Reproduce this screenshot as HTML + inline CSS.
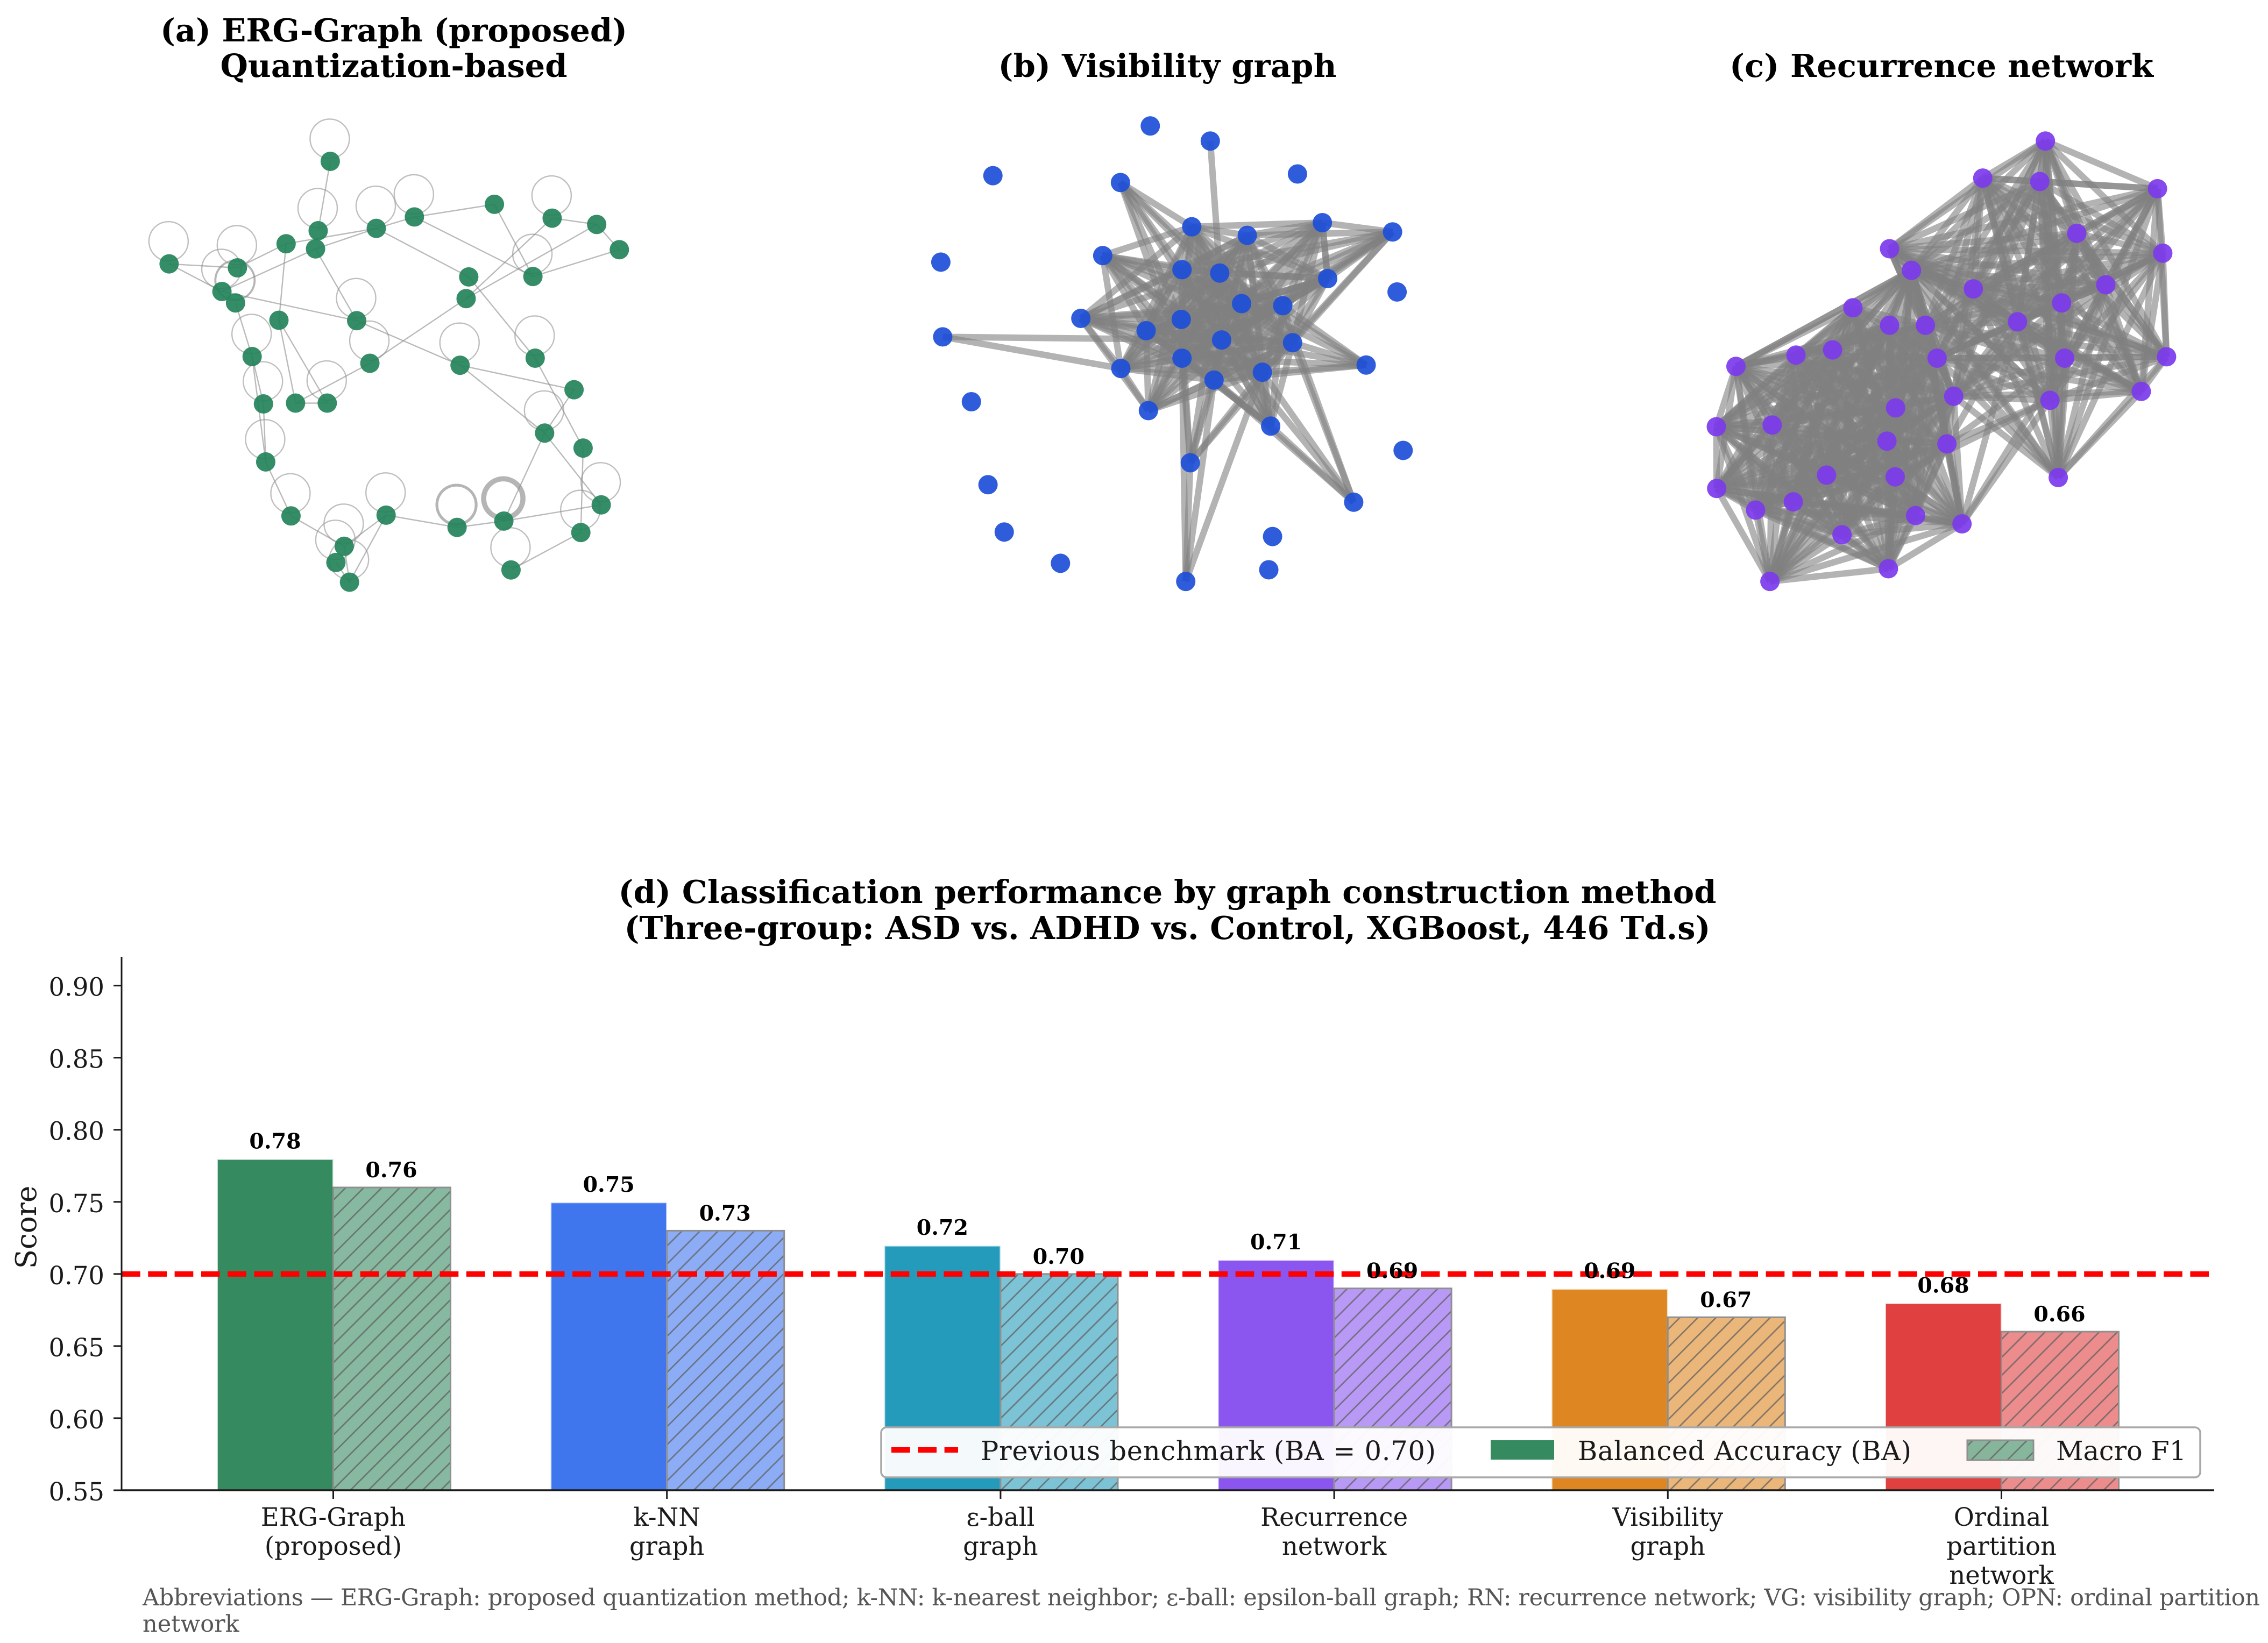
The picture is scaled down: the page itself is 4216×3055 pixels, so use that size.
<!DOCTYPE html>
<html lang="en">
<head>
<meta charset="utf-8">
<title>Graph construction methods and classification performance</title>
<style>
html,body{margin:0;padding:0;background:#fff;}
svg{display:block;}
text{font-family:"DejaVu Serif","Liberation Serif",serif;}
.title{font-size:59px;font-weight:700;fill:#000;text-anchor:middle;}
.legend-text{font-size:49.4px;fill:#1a1a1a;}
.foot{font-size:43px;fill:#555;}
.tick{font-size:46.5px;fill:#1a1a1a;}
.val{font-size:39.5px;font-weight:700;fill:#000;text-anchor:middle;}
</style>
</head>
<body>
<svg id="figure" xmlns="http://www.w3.org/2000/svg" width="4216" height="3055" viewBox="0 0 4216 3055">
<defs>
<pattern id="hatch" patternUnits="userSpaceOnUse" width="33.6" height="33.6" patternTransform="translate(28.6 0)">
<path d="M-4 37.6L37.6 -4M-4 4L4 -4M29.6 37.6L37.6 29.6" stroke="#5f5f5f" stroke-opacity="0.75" stroke-width="2.7" fill="none"/>
</pattern>
</defs>
<rect x="0" y="0" width="4216" height="3055" fill="#fff"/>

<text class="title" x="732" y="77" textLength="868">(a) ERG-Graph (proposed)</text>
<text class="title" x="732" y="143" textLength="645">Quantization-based</text>
<text class="title" x="2170" y="143" textLength="629">(b) Visibility graph</text>
<text class="title" x="3609" y="143" textLength="788">(c) Recurrence network</text>
<text class="title" x="2170" y="1679" textLength="2041">(d) Classification performance by graph construction method</text>
<text class="title" x="2170" y="1746" textLength="2019">(Three-group: ASD vs. ADHD vs. Control, XGBoost, 446 Td.s)</text>

<g id="panel-a"></g>
<g id="panel-b"></g>
<g id="panel-c"></g>
<g id="bars"></g>

<text transform="translate(67 2282) rotate(-90)" text-anchor="middle" font-size="53" fill="#1a1a1a">Score</text>

<g>
<rect x="1638" y="2654" width="2452" height="93" rx="10" ry="10" fill="#fff" fill-opacity="0.95" stroke="#a8a8a8" stroke-width="3.5"/>
<line x1="1657" y1="2696" x2="1781" y2="2696" stroke="#ff0000" stroke-width="10" stroke-dasharray="34.7 14.6"/>
<text class="legend-text" x="1823" y="2715" textLength="846">Previous benchmark (BA = 0.70)</text>
<rect x="2771" y="2678" width="118" height="36" fill="#368a5f"/>
<text class="legend-text" x="2933" y="2715" textLength="620">Balanced Accuracy (BA)</text>
<rect x="3657" y="2678" width="123" height="37" fill="#368a5f" fill-opacity="0.6"/>
<rect x="3657" y="2678" width="123" height="37" fill="url(#hatch)" stroke="#8f8f8f" stroke-width="3"/>
<text class="legend-text" x="3822" y="2715" textLength="242">Macro F1</text>
</g>

<text class="foot" x="265" y="2985" textLength="3936">Abbreviations — ERG-Graph: proposed quantization method; k-NN: k-nearest neighbor; ε-ball: epsilon-ball graph; RN: recurrence network; VG: visibility graph; OPN: ordinal partition</text>
<text class="foot" x="265" y="3034">network</text>
</svg>

<script>
// ---- bar chart data ----
const categories = ["ERG-Graph\n(proposed)", "k-NN\ngraph", "ε-ball\ngraph", "Recurrence\nnetwork", "Visibility\ngraph", "Ordinal\npartition\nnetwork"];
const balancedAccuracy = [0.78, 0.75, 0.72, 0.71, 0.69, 0.68];
const macroF1 = [0.76, 0.73, 0.70, 0.69, 0.67, 0.66];
const benchmarkValue = 0.70;
const yTickValues = [0.55, 0.60, 0.65, 0.70, 0.75, 0.80, 0.85, 0.90];
const barColors = ["#368a5f", "#3f76ee", "#259bbb", "#8b55f0", "#dd8622", "#e04040"];

// ---- network data: layout coordinates on a 0-1568 square ----
const ergNodes = [[590,409],[558,585],[551,631],[473,618],[712,579],[813,550],[1025,518],[1178,553],[1296,569],[1356,633],[1127,701],[957,702],[950,757],[163,669],[344,679],[303,739],[339,768],[454,812],[660,813],[1133,908],[934,926],[695,921],[383,904],[413,1024],[498,1022],[582,1022],[1236,988],[1158,1098],[1260,1136],[419,1171],[486,1308],[738,1306],[926,1337],[1050,1321],[1308,1280],[1254,1350],[1069,1445],[627,1385],[605,1426],[641,1476]];
const ergEdges = [[0,1],[14,3],[3,4],[15,2],[2,4],[4,5],[5,6],[5,10],[4,11],[6,10],[7,12],[8,12],[7,8],[8,9],[9,10],[11,19],[12,21],[13,14],[13,15],[15,18],[2,18],[3,17],[17,24],[17,25],[24,25],[24,21],[18,20],[20,26],[20,27],[26,27],[19,28],[27,34],[27,33],[28,35],[33,34],[35,36],[32,33],[31,32],[31,37],[31,39],[30,37],[37,39],[38,39],[16,22],[22,29],[22,23],[23,29],[29,30]];
const ergLoops = [0,1,4,5,7,10,13,14,15,16,18,19,20,21,22,23,25,27,29,30,31,32,33,34,35,36,37,38,39];
const ergLoopWeights = [1,1,1,1,1,1,1,1,1,1.6,1,1,1,1,1,1,1,1,1,1,1,2.2,4,1,1,1,1,1,1];

const visNodes = [[696,132],[855,176],[279,277],[617,297],[1086,272],[806,426],[1152,414],[1338,441],[953,451],[141,529],[570,510],[780,551],[880,561],[1166,577],[1350,616],[938,650],[1047,656],[512,693],[778,696],[685,729],[146,747],[885,756],[1073,764],[618,839],[780,809],[1268,829],[993,850],[865,873],[691,962],[222,936],[1015,1007],[802,1114],[1366,1078],[1235,1229],[266,1178],[309,1316],[1020,1329],[1010,1426],[458,1407],[790,1460]];
const visCore = [5,8,11,12,15,16,18,19,21,22,24,26,27];
const visSpokes = [
  [1,[12]],
  [3,[5,11,12,15,18,21,24]],
  [6,[5,8,11,12,13,15,16,18,21,22,24,26,27]],
  [7,[6,8,11,12,13,15,16,18,21,22,24,26]],
  [10,[5,11,12,15,18,19,21,22,23,24,26,27,16]],
  [13,[5,6,8,11,12,15,16,18,19,21,22,24,26,27]],
  [17,[5,8,11,12,15,16,18,19,21,22,23,24,26,27,28]],
  [20,[21,23]],
  [23,[5,8,11,12,15,16,18,19,21,22,24,26,27,28]],
  [25,[12,15,16,21,22,24,26,27]],
  [28,[8,11,12,15,16,18,19,21,22,24,26,27]],
  [30,[5,8,11,12,15,16,18,19,21,22,24,26,27]],
  [31,[12,18,21,22,24,26,27]],
  [33,[16,21,22,26,27,30]],
  [39,[24,26,27,31]]
];

const recNodes = [[1001,176],[835,284],[986,294],[1298,315],[1084,445],[1312,503],[588,490],[646,553],[810,607],[1161,595],[1044,648],[491,662],[588,713],[683,713],[927,703],[437,785],[340,800],[181,833],[714,809],[1052,809],[1322,805],[1255,906],[758,920],[1013,932],[604,954],[129,1009],[277,1004],[581,1051],[740,1059],[421,1150],[603,1155],[1035,1157],[130,1189],[233,1252],[333,1228],[657,1268],[462,1324],[780,1292],[585,1423],[271,1460]];
const recUpperCluster = [0,1,2,3,4,5,6,7,8,9,10,13,14,18,19,20,21,22,23,31];
const recLowerCluster = [7,11,12,13,15,16,17,18,22,24,25,26,27,28,29,30,32,33,34,35,36,37,38,39];
const recBridges = [[17,7],[37,14],[37,23],[37,19],[28,23],[28,19],[28,14],[30,23]];

// ---- helpers ----
const NS = "http://www.w3.org/2000/svg";
function make(tag, parent, attrs) {
  const el = document.createElementNS(NS, tag);
  for (const k in attrs) el.setAttribute(k, attrs[k]);
  parent.appendChild(el);
  return el;
}

// ---- networks ----
function drawNodes(parent, nodes, px, py, color) {
  nodes.forEach(function (n) {
    const c = make("circle", parent, {cx: px(n[0]), cy: py(n[1]), r: 18, fill: color, "fill-opacity": 0.92});
    
    
  });
}
function drawHeavyEdge(parent, nodes, a, b, px, py) {
  const e = make("line", parent, {x1: px(nodes[a][0]), y1: py(nodes[a][1]), x2: px(nodes[b][0]), y2: py(nodes[b][1]), stroke: "#808080", "stroke-opacity": 0.6, "stroke-width": 12});
  
  
}
function drawClique(parent, nodes, members, px, py) {
  for (let i = 0; i < members.length; i++) {
    for (let j = i + 1; j < members.length; j++) {
      drawHeavyEdge(parent, nodes, members[i], members[j], px, py);
    }
  }
}
const scaleXY = function (originX, originY, w, h) {
  return [function (u) { return originX + u * w / 1568; }, function (v) { return originY + v * h / 1568; }];
};

// panel a
(function () {
  const g = document.getElementById("panel-a");
  const s = scaleXY(200, 0, 1100, 1150);
  ergLoops.forEach(function (idx, k) {
    const n = ergNodes[idx];
    const weight = ergLoopWeights[k];
    const loop = make("circle", g, {cx: s[0](n[0]) - 1, cy: s[1](n[1]) - 42, r: 36.5, fill: "none", stroke: "#9c9c9c", "stroke-opacity": weight > 1 ? 0.75 : 0.65, "stroke-width": 2.4 * weight});
    
    
  });
  ergEdges.forEach(function (p) {
    const a = ergNodes[p[0]], b = ergNodes[p[1]];
    const e = make("line", g, {x1: s[0](a[0]), y1: s[1](a[1]), x2: s[0](b[0]), y2: s[1](b[1]), stroke: "#8c8c8c", "stroke-opacity": 0.6, "stroke-width": 2.4});
    
    
  });
  drawNodes(g, ergNodes, s[0], s[1], "#24835a");
})();

// panel b
(function () {
  const g = document.getElementById("panel-b");
  const s = scaleXY(1650, 150, 1100, 1000);
  drawClique(g, visNodes, visCore, s[0], s[1]);
  visSpokes.forEach(function (row) {
    row[1].forEach(function (t) { drawHeavyEdge(g, visNodes, row[0], t, s[0], s[1]); });
  });
  drawNodes(g, visNodes, s[0], s[1], "#1d4ed8");
})();

// panel c
(function () {
  const g = document.getElementById("panel-c");
  const s = scaleXY(3100, 150, 1100, 1000);
  drawClique(g, recNodes, recUpperCluster, s[0], s[1]);
  drawClique(g, recNodes, recLowerCluster, s[0], s[1]);
  recBridges.forEach(function (p) { drawHeavyEdge(g, recNodes, p[0], p[1], s[0], s[1]); });
  drawNodes(g, recNodes, s[0], s[1], "#7c3aed");
})();

// ---- bar chart ----
(function () {
  const g = document.getElementById("bars");
  const plotLeft = 226, plotRight = 4116, plotBottom = 2771, plotTop = 1779;
  const yMin = 0.55, yMax = 0.92;
  const y = function (v) { return plotBottom - (v - yMin) / (yMax - yMin) * (plotBottom - plotTop); };
  const x = function (i) { return 619.5 + i * 620.2; };
  const bw = 216;

  categories.forEach(function (cat, i) {
    const ba = make("rect", g, {x: x(i) - bw, y: y(balancedAccuracy[i]) + 1, width: bw, height: plotBottom - y(balancedAccuracy[i]) - 1, fill: barColors[i], stroke: "#fff", "stroke-opacity": 0.7, "stroke-width": 3});
    
    

    const f1 = make("rect", g, {x: x(i), y: y(macroF1[i]), width: bw + 2, height: plotBottom - y(macroF1[i]), fill: barColors[i], "fill-opacity": 0.6});
    
    

    const h = make("rect", g, {x: x(i), y: y(macroF1[i]), width: bw + 2, height: plotBottom - y(macroF1[i]), fill: "url(#hatch)", stroke: "#8f8f8f", "stroke-width": 3});
    
    
  });

  const bench = make("line", g, {x1: plotLeft, y1: y(benchmarkValue), x2: plotRight, y2: y(benchmarkValue), stroke: "#ff0000", "stroke-width": 10, "stroke-dasharray": "34.7 14.6"});
  
  

  categories.forEach(function (cat, i) {
    const t1 = make("text", g, {"class": "val", x: x(i) - bw / 2, y: y(balancedAccuracy[i]) - 19});
    t1.textContent = balancedAccuracy[i].toFixed(2);
    
    

    const t2 = make("text", g, {"class": "val", x: x(i) + bw / 2, y: y(macroF1[i]) - 19});
    t2.textContent = macroF1[i].toFixed(2);
    
    

    const tick = make("line", g, {x1: x(i), y1: plotBottom, x2: x(i), y2: plotBottom + 16, stroke: "#1a1a1a", "stroke-width": 3});
    
    

    cat.split("\n").forEach(function (line, k) {
      const lab = make("text", g, {"class": "tick", x: x(i), y: 2837 + k * 54, "text-anchor": "middle"});
      lab.textContent = line;
      
      
    });
  });

  yTickValues.forEach(function (v) {
    const tick = make("line", g, {x1: plotLeft - 15, y1: y(v), x2: plotLeft, y2: y(v), stroke: "#1a1a1a", "stroke-width": 3});
    
    

    const lab = make("text", g, {"class": "tick", x: 194, y: y(v) + 19, "text-anchor": "end"});
    lab.textContent = v.toFixed(2);
    
    
  });

  const spineL = make("line", g, {x1: plotLeft, y1: plotTop, x2: plotLeft, y2: plotBottom + 1.5, stroke: "#1a1a1a", "stroke-width": 3});
  
  

  const spineB = make("line", g, {x1: plotLeft, y1: plotBottom, x2: plotRight, y2: plotBottom, stroke: "#1a1a1a", "stroke-width": 3.5});
  
  
})();
</script>
</body>
</html>
